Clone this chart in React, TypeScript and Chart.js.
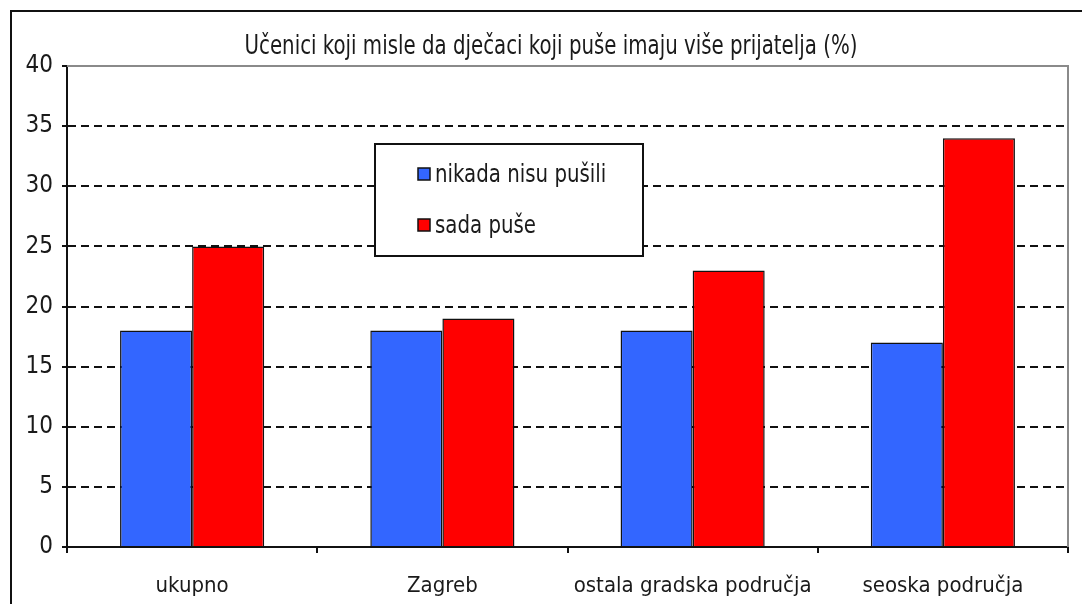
import React, { useEffect, useRef } from "react";
import { Chart, registerables } from "chart.js";

Chart.register(...registerables);

const TITLE = "Učenici koji misle da dječaci koji puše imaju više prijatelja (%)";
const CATEGORIES = ["ukupno", "Zagreb", "ostala gradska područja", "seoska područja"];
const SERIES_NAMES = ["nikada nisu pušili", "sada puše"];
const NEVER_SMOKED = [18, 18, 18, 17];
const SMOKE_NOW = [25, 19, 23, 34];
const Y_MIN = 0;
const Y_MAX = 40;
const Y_STEP = 5;

const FONT = "'Liberation Sans Narrow', 'Arial Narrow', 'DejaVu Sans Condensed', sans-serif";
const TEXT_COLOR = "#1a1a1a";

function stretchedText(ctx: any, text: string, x: number, y: number, sy: number) {
  ctx.save();
  ctx.translate(x, y);
  ctx.scale(1, sy);
  ctx.fillText(text, 0, 0);
  ctx.restore();
}

const decorPlugin = {
  id: "decor",
  afterDraw(chart: any) {
    const { ctx, chartArea } = chart;
    ctx.save();
    // outer frame
    ctx.strokeStyle = "#111";
    ctx.lineWidth = 2;
    ctx.strokeRect(11, 11, 1100, 640);
    // plot area top and right border (gray)
    ctx.strokeStyle = "#8a8a8a";
    ctx.lineWidth = 2;
    ctx.beginPath();
    ctx.moveTo(chartArea.left, chartArea.top);
    ctx.lineTo(chartArea.right, chartArea.top);
    ctx.lineTo(chartArea.right, chartArea.bottom);
    ctx.stroke();
    // title
    ctx.fillStyle = TEXT_COLOR;
    ctx.font = `22px ${FONT}`;
    ctx.textAlign = "center";
    ctx.textBaseline = "middle";
    stretchedText(ctx, TITLE, 551, 47, 1.2);
    // legend box
    ctx.fillStyle = "#fff";
    ctx.fillRect(375, 144, 268, 112);
    ctx.strokeStyle = "#111";
    ctx.lineWidth = 2;
    ctx.strokeRect(375, 144, 268, 112);
    const ys = [174, 225];
    chart.data.datasets.forEach((ds: any, i: number) => {
      const y = ys[i];
      ctx.fillStyle = ds.backgroundColor;
      ctx.fillRect(418, y - 6, 12, 12);
      ctx.strokeStyle = "#111";
      ctx.lineWidth = 1.5;
      ctx.strokeRect(418, y - 6, 12, 12);
      ctx.fillStyle = TEXT_COLOR;
      ctx.font = `22px ${FONT}`;
      ctx.textAlign = "left";
      ctx.textBaseline = "middle";
      stretchedText(ctx, ds.label, 435, y + 1, 1.15);
    });
    ctx.restore();
  },
};

export default function App() {
  const ref = useRef<HTMLCanvasElement | null>(null);

  useEffect(() => {
    document.body.style.margin = "0";
    if (!ref.current) return;
    const chart = new Chart(ref.current, {
      type: "bar",
      data: {
        labels: CATEGORIES,
        datasets: [
          {
            label: SERIES_NAMES[0],
            data: NEVER_SMOKED,
            backgroundColor: "#3366FF",
            borderColor: "#111",
            borderWidth: 1.5,
            barPercentage: 1,
            categoryPercentage: 0.576,
          },
          {
            label: SERIES_NAMES[1],
            data: SMOKE_NOW,
            backgroundColor: "#FF0000",
            borderColor: "#111",
            borderWidth: 1.5,
            barPercentage: 1,
            categoryPercentage: 0.576,
          },
        ],
      },
      options: {
        responsive: false,
        animation: false,
        layout: { padding: { top: 66, right: 14, left: 0, bottom: 0 } },
        plugins: {
          legend: { display: false },
          title: { display: false },
          tooltip: { enabled: false },
        },
        scales: {
          x: {
            afterFit: (scale: any) => {
              scale.height = 57;
            },
            grid: {
              offset: true,
              drawOnChartArea: false,
              drawTicks: true,
              tickLength: 6,
              tickColor: "#111",
              lineWidth: 2,
            },
            border: { display: true, color: "#111", width: 2 },
            ticks: {
              color: TEXT_COLOR,
              font: { family: FONT, size: 22 },
              padding: 20,
              maxRotation: 0,
              autoSkip: false,
            },
          },
          y: {
            min: Y_MIN,
            max: Y_MAX,
            afterFit: (scale: any) => {
              scale.width = 67;
            },
            grid: {
              drawOnChartArea: true,
              drawTicks: true,
              tickLength: 5,
              lineWidth: 2,
              color: (c: any) =>
                c.tick && (c.tick.value === Y_MIN || c.tick.value === Y_MAX)
                  ? "rgba(0,0,0,0)"
                  : "#111",
              tickColor: "#111",
            },
            border: { display: true, color: "#111", width: 2, dash: [8, 5] },
            ticks: {
              stepSize: Y_STEP,
              color: TEXT_COLOR,
              font: { family: FONT, size: 24 },
              padding: 9,
            },
          },
        },
      },
      plugins: [decorPlugin],
    });
    return () => chart.destroy();
  }, []);

  return <canvas ref={ref} width={1082} height={604} style={{ display: "block" }} />;
}
